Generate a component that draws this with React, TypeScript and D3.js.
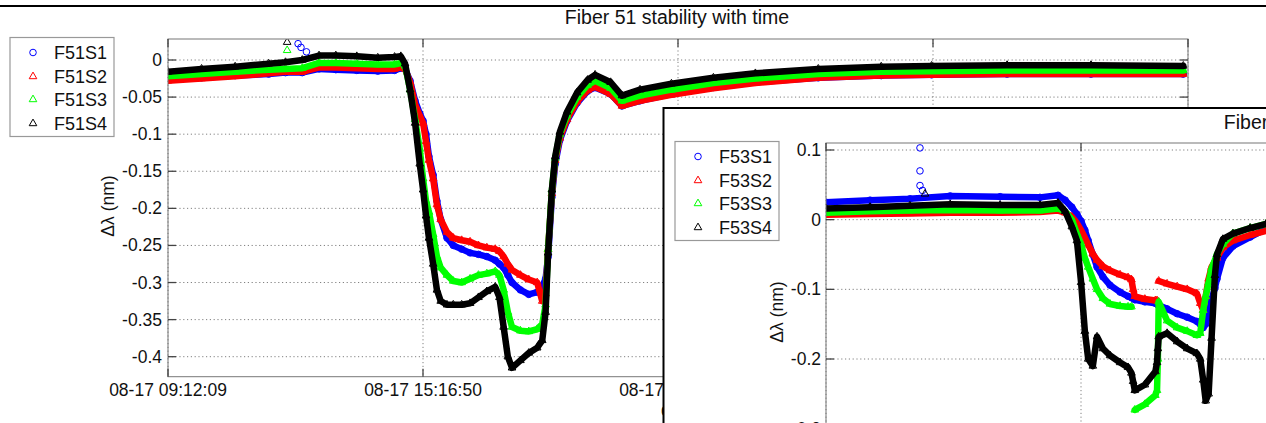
import React from 'react';
import * as d3 from 'd3';

const W = 1266;
const H = 423;

// ---------- axis ticks ----------
const xTickHours = [0, 6.078, 12.156, 18.234, 24.312];
const xTickLabels51 = ['08-17 09:12:09', '08-17 15:16:50', '08-17 21:21:31', '08-18 03:26:12', '08-18 09:30:53'];
const yTicks51 = [0, -0.05, -0.1, -0.15, -0.2, -0.25, -0.3, -0.35, -0.4];
const yTickLabels51 = ['0', '-0.05', '-0.1', '-0.15', '-0.2', '-0.25', '-0.3', '-0.35', '-0.4'];
const yTicks53 = [0.1, 0, -0.1, -0.2, -0.3];
const yTickLabels53 = ['0.1', '0', '-0.1', '-0.2', '-0.3'];

const names51 = ['F51S1', 'F51S2', 'F51S3', 'F51S4'];
const names53 = ['F53S1', 'F53S2', 'F53S3', 'F53S4'];
const seriesColors = ['#0000ff', '#ff0000', '#00ff00', '#000000'];
const seriesMarkers = ['o', '^', '^', '^'];

// ---------- Fiber 51 data (hours since 08-17 09:12:09, nm) ----------
const t51 = [0, 0.8, 1.6, 2.4, 2.8, 3.2, 3.6, 4.0, 4.5, 5.0, 5.4, 5.55, 5.65, 5.77, 5.89, 6.0, 6.08, 6.15, 6.22, 6.32, 6.41, 6.5, 6.65, 6.8, 7.0, 7.2, 7.4, 7.6, 7.8, 7.9, 8.0, 8.1, 8.2, 8.4, 8.6, 8.8, 8.92, 9.0, 9.06, 9.15, 9.23, 9.34, 9.51, 9.75, 10.0, 10.18, 10.55, 10.82, 11.25, 12.0, 13.0, 14.0, 15.5, 17.0, 18.2, 20.0, 22.0, 24.2];
const f51s1 = [-0.026, -0.024, -0.021, -0.019, -0.017, -0.017, -0.012, -0.013, -0.014, -0.015, -0.014, -0.011, -0.012, -0.028, -0.055, -0.072, -0.082, -0.100, -0.130, -0.155, -0.190, -0.215, -0.240, -0.250, -0.255, -0.260, -0.262, -0.265, -0.270, -0.275, -0.280, -0.290, -0.300, -0.310, -0.316, -0.313, -0.305, -0.295, -0.265, -0.185, -0.140, -0.108, -0.082, -0.058, -0.042, -0.037, -0.046, -0.062, -0.055, -0.046, -0.037, -0.030, -0.024, -0.021, -0.020, -0.019, -0.019, -0.019];
const f51s2 = [-0.028, -0.025, -0.022, -0.018, -0.016, -0.016, -0.010, -0.010, -0.011, -0.012, -0.012, -0.010, -0.012, -0.030, -0.060, -0.075, -0.085, -0.110, -0.135, -0.160, -0.195, -0.215, -0.232, -0.240, -0.243, -0.245, -0.250, -0.253, -0.255, -0.258, -0.265, -0.275, -0.283, -0.290, -0.296, -0.300, -0.325, -0.315, -0.255, -0.180, -0.135, -0.105, -0.080, -0.056, -0.041, -0.036, -0.046, -0.062, -0.055, -0.047, -0.038, -0.031, -0.024, -0.021, -0.020, -0.019, -0.019, -0.019];
const f51s3 = [-0.022, -0.019, -0.016, -0.013, -0.012, -0.011, -0.004, -0.004, -0.005, -0.006, -0.006, -0.004, -0.008, -0.040, -0.080, -0.120, -0.160, -0.190, -0.205, -0.235, -0.265, -0.280, -0.290, -0.298, -0.300, -0.295, -0.290, -0.288, -0.285, -0.290, -0.310, -0.340, -0.360, -0.365, -0.366, -0.363, -0.356, -0.330, -0.255, -0.175, -0.132, -0.100, -0.075, -0.050, -0.034, -0.028, -0.038, -0.055, -0.048, -0.040, -0.031, -0.025, -0.019, -0.016, -0.015, -0.014, -0.014, -0.014];
const f51s4 = [-0.016, -0.012, -0.009, -0.005, -0.003, 0.000, 0.006, 0.006, 0.005, 0.003, 0.004, 0.005, -0.005, -0.040, -0.085, -0.140, -0.175, -0.210, -0.240, -0.275, -0.310, -0.325, -0.330, -0.330, -0.330, -0.328, -0.320, -0.312, -0.306, -0.320, -0.360, -0.400, -0.415, -0.405, -0.395, -0.388, -0.378, -0.340, -0.260, -0.175, -0.130, -0.097, -0.070, -0.044, -0.027, -0.020, -0.030, -0.048, -0.040, -0.032, -0.024, -0.018, -0.012, -0.009, -0.008, -0.007, -0.007, -0.008];
// isolated outliers
const spikeSeries51 = [3, 2, 0, 0, 0];
const spikeT51 = [2.84, 2.84, 3.10, 3.17, 3.30];
const spikeV51 = [0.024, 0.013, 0.022, 0.017, 0.011];

// ---------- Fiber 53 data ----------
const t53 = [0, 1.05, 2.0, 2.96, 4.15, 5.10, 5.53, 5.70, 5.86, 5.98, 6.08, 6.17, 6.25, 6.36, 6.46, 6.60, 6.77, 7.01, 7.20, 7.28, 7.32, 7.36, 7.60, 7.85, 7.89, 7.91, 7.93, 8.13, 8.37, 8.61, 8.84, 8.92, 8.99, 9.05, 9.12, 9.19, 9.27, 9.32, 9.46, 9.70, 10.11, 10.49, 10.9];
const f53s1 = [0.025, 0.028, 0.030, 0.034, 0.033, 0.032, 0.035, 0.028, 0.018, 0.008, -0.002, -0.015, -0.030, -0.050, -0.068, -0.082, -0.094, -0.104, -0.110, -0.112, -0.113, -0.115, -0.118, -0.120, -0.121, -0.122, -0.123, -0.128, -0.135, -0.140, -0.146, -0.150, -0.155, -0.150, -0.135, -0.115, -0.098, -0.085, -0.055, -0.038, -0.025, -0.013, -0.010];
const f53s2 = [0.007, 0.008, 0.009, 0.010, 0.010, 0.011, 0.013, 0.010, 0.004, -0.005, -0.015, -0.026, -0.036, -0.049, -0.058, -0.067, -0.073, -0.079, -0.083, -0.086, -0.100, -0.110, -0.114, -0.116, -0.116, null, -0.088, -0.092, -0.096, -0.100, -0.106, -0.120, -0.130, -0.110, -0.085, -0.068, -0.060, -0.055, -0.040, -0.030, -0.022, -0.016, -0.013];
const f53s3 = [0.010, 0.012, 0.013, 0.014, 0.013, 0.013, 0.016, 0.012, 0.000, -0.020, -0.035, -0.055, -0.068, -0.085, -0.100, -0.113, -0.121, -0.124, -0.125, -0.125, null, -0.273, -0.265, -0.252, -0.245, -0.200, -0.118, -0.145, -0.155, -0.160, -0.166, -0.163, -0.130, -0.110, -0.090, -0.070, -0.058, -0.049, -0.035, -0.020, -0.012, -0.006, -0.004];
const f53s4 = [0.016, 0.018, 0.020, 0.022, 0.021, 0.021, 0.024, 0.012, -0.010, -0.030, -0.090, -0.160, -0.200, -0.210, -0.168, -0.185, -0.195, -0.205, -0.212, -0.220, -0.232, -0.245, -0.237, -0.218, -0.205, -0.185, -0.168, -0.163, -0.175, -0.185, -0.192, -0.200, -0.230, -0.260, -0.250, -0.170, -0.080, -0.050, -0.028, -0.020, -0.012, -0.006, -0.004];
const spikeSeries53 = [0, 0, 0, 0, 3];
const spikeT53 = [2.24, 2.24, 2.24, 2.30, 2.36];
const spikeV53 = [0.103, 0.070, 0.049, 0.042, 0.037];

const FONT = '"Liberation Sans", Arial, Helvetica, sans-serif';

function markerPath(kind: string, cx: number, cy: number): string {
  if (kind === 'o') {
    const r = 3.3;
    return `M${cx - r},${cy}a${r},${r} 0 1,0 ${2 * r},0a${r},${r} 0 1,0 ${-2 * r},0Z`;
  }
  const s = 4.4;
  return `M${cx},${cy - s}L${cx + s * 0.866},${cy + s * 0.5}L${cx - s * 0.866},${cy + s * 0.5}Z`;
}

type PlotProps = {
  id: string;
  left: number; top: number; width: number; height: number;
  x: d3.ScaleLinear<number, number>;
  y: d3.ScaleLinear<number, number>;
  yTicks: number[]; yLabels: string[];
  xLabels: string[] | null;
  t: number[];
  series: (number | null)[][];
  spikeSeries: number[]; spikeT: number[]; spikeV: number[];
  yLabelPos: [number, number];
  yLabelRight: number;
  xLabel?: string;
};

function Plot(p: PlotProps) {
  const right = p.left + p.width;
  const bottom = p.top + p.height;
  const tickLen = 8;
  const line = d3.line<{ t: number; v: number | null }>()
    .defined(d => d.v !== null)
    .x(d => p.x(d.t))
    .y(d => p.y(d.v as number));
  return (
    <g>
      <defs>
        <clipPath id={p.id}>
          <rect x={p.left} y={p.top} width={p.width} height={p.height} />
        </clipPath>
      </defs>
      {/* grid */}
      {p.yTicks.map((v, i) => (
        <line key={'gy' + i} x1={p.left} x2={right} y1={p.y(v)} y2={p.y(v)}
          stroke="#808080" strokeWidth={1} strokeDasharray="1.2 2.6" />
      ))}
      {xTickHours.map((h, i) => (
        <line key={'gx' + i} x1={p.x(h)} x2={p.x(h)} y1={p.top} y2={bottom}
          stroke="#808080" strokeWidth={1} strokeDasharray="1.2 2.6" />
      ))}
      {/* data */}
      <g clipPath={`url(#${p.id})`}>
        {p.series.map((vals, si) => {
          const pts = p.t.map((t, i) => ({ t, v: vals[i] }));
          return (
            <g key={'s' + si}>
              <path d={line(pts) || ''} fill="none" stroke={seriesColors[si]} strokeWidth={6.5}
                strokeLinejoin="round" strokeLinecap="round" />
              {pts.filter(d => d.v !== null).map((d, i) => (
                <path key={i} d={markerPath(seriesMarkers[si], p.x(d.t), p.y(d.v as number))}
                  fill="none" stroke={seriesColors[si]} strokeWidth={1} />
              ))}
            </g>
          );
        })}
        {p.spikeT.map((t, i) => (
          <path key={'sp' + i} d={markerPath(seriesMarkers[p.spikeSeries[i]], p.x(t), p.y(p.spikeV[i]))}
            fill="none" stroke={seriesColors[p.spikeSeries[i]]} strokeWidth={1} />
        ))}
      </g>
      {/* box */}
      <rect x={p.left} y={p.top} width={p.width} height={p.height} fill="none" stroke="#777" strokeWidth={1} />
      {/* ticks */}
      {p.yTicks.map((v, i) => (
        <g key={'ty' + i}>
          <line x1={p.left} x2={p.left + tickLen} y1={p.y(v)} y2={p.y(v)} stroke="#444" strokeWidth={1.3} />
          <line x1={right} x2={right - tickLen} y1={p.y(v)} y2={p.y(v)} stroke="#444" strokeWidth={1.3} />
          <text x={p.yLabelRight} y={p.y(v) + 6} textAnchor="end" fontFamily={FONT} fontSize={17.5} fill="#111">
            {p.yLabels[i]}
          </text>
        </g>
      ))}
      {xTickHours.map((h, i) => (
        <g key={'tx' + i}>
          <line x1={p.x(h)} x2={p.x(h)} y1={bottom} y2={bottom - tickLen} stroke="#444" strokeWidth={1.3} />
          <line x1={p.x(h)} x2={p.x(h)} y1={p.top} y2={p.top + tickLen} stroke="#444" strokeWidth={1.3} />
          {p.xLabels && (
            <text x={p.x(h)} y={bottom + 19.5} textAnchor="middle" fontFamily={FONT} fontSize={17.5} fill="#111">
              {p.xLabels[i]}
            </text>
          )}
        </g>
      ))}
      {p.xLabel && (
        <text x={(p.left + right) / 2} y={bottom + 39} textAnchor="middle" fontFamily={FONT} fontSize={17.5} fill="#111">
          {p.xLabel}
        </text>
      )}
      <text transform={`translate(${p.yLabelPos[0]},${p.yLabelPos[1]}) rotate(-90)`} textAnchor="middle"
        dy="0.35em" fontFamily={FONT} fontSize={17.5} fill="#111">
        Δλ (nm)
      </text>
    </g>
  );
}

function Legend({ x, y, names }: { x: number; y: number; names: string[] }) {
  const rows = [15, 39, 62, 86];
  return (
    <g>
      <rect x={x} y={y} width={104} height={99} fill="#fff" stroke="#999" strokeWidth={1.2} />
      {names.map((n, i) => (
        <g key={n}>
          <path d={markerPath(seriesMarkers[i], x + 23, y + rows[i])} fill="none" stroke={seriesColors[i]} strokeWidth={1} />
          <text x={x + 44} y={y + rows[i] + 6.5} fontFamily={FONT} fontSize={18} fill="#111">{n}</text>
        </g>
      ))}
    </g>
  );
}

export default function App() {
  const x51 = d3.scaleLinear().domain([0, 24.312]).range([168, 1188]);
  const y51 = d3.scaleLinear().domain([0, -0.4]).range([60, 356.7]);
  const x53 = d3.scaleLinear().domain([0, 24.312]).range([826, 1846]);
  const y53 = d3.scaleLinear().domain([0.1, -0.2]).range([150, 359]);

  return (
    <svg width={W} height={H} viewBox={`0 0 ${W} ${H}`}
      style={{ position: 'absolute', left: 0, top: 0, background: '#fff', display: 'block' }}>
      <rect x={0} y={0} width={W} height={H} fill="#fff" />
      {/* main figure */}
      <line x1={0} x2={W} y1={6} y2={6} stroke="#000" strokeWidth={2} />
      <text x={677} y={24} textAnchor="middle" fontFamily={FONT} fontSize={19.5} fill="#111">
        Fiber 51 stability with time
      </text>
      <Plot id="clip51" left={168} top={39} width={1020} height={337.7} x={x51} y={y51}
        yTicks={yTicks51} yLabels={yTickLabels51} xLabels={xTickLabels51}
        t={t51} series={[f51s1, f51s2, f51s3, f51s4]}
        spikeSeries={spikeSeries51} spikeT={spikeT51} spikeV={spikeV51}
        yLabelPos={[108, 206]} yLabelRight={162} xLabel="date" />
      <Legend x={10} y={37.5} names={names51} />

      {/* second figure overlapping */}
      <rect x={663.5} y={108} width={W} height={H} fill="#fff" stroke="#000" strokeWidth={2} />
      <text x={1336} y={129} textAnchor="middle" fontFamily={FONT} fontSize={19.5} fill="#111">
        Fiber 53 stability with time
      </text>
      <Plot id="clip53" left={826} top={143} width={1020} height={337.7} x={x53} y={y53}
        yTicks={yTicks53} yLabels={yTickLabels53} xLabels={null}
        t={t53} series={[f53s1, f53s2, f53s3, f53s4]}
        spikeSeries={spikeSeries53} spikeT={spikeT53} spikeV={spikeV53}
        yLabelPos={[777, 312]} yLabelRight={821} />
      <Legend x={675} y={141.5} names={names53} />
    </svg>
  );
}
